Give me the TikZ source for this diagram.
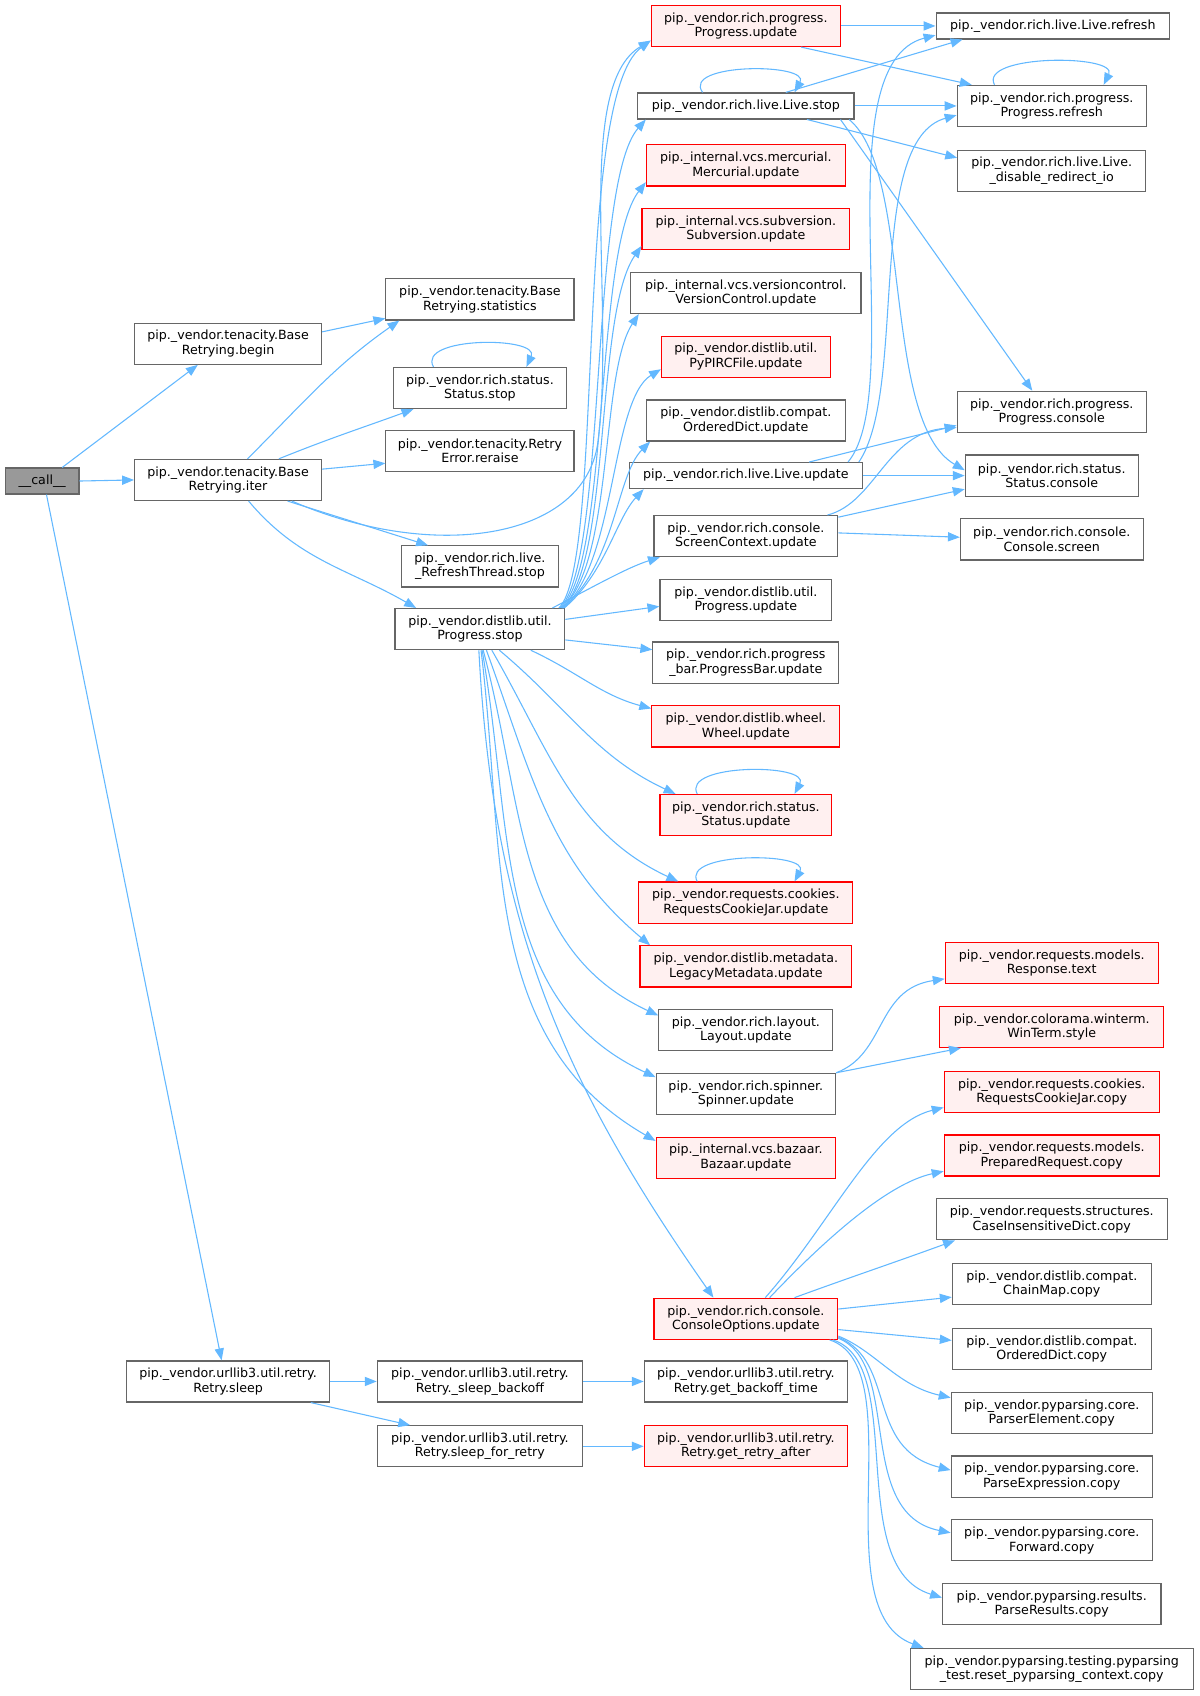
\documentclass[tikz,border=0pt]{standalone}
\usepackage{fontspec}
\setmainfont{DejaVu Sans}
\usetikzlibrary{arrows.meta}
\definecolor{edgeblue}{HTML}{63B8FF}
\definecolor{nodegray}{HTML}{666666}
\definecolor{redfill}{HTML}{FFF0F0}
\definecolor{rootfill}{HTML}{999999}
\begin{document}
\begin{tikzpicture}[x=1pt,y=1pt,
  fn/.style={draw=nodegray, line width=1.1pt, fill=white, rectangle, inner sep=0pt,
    minimum height=38pt, align=center, font=\fontsize{11.7}{13.4}\selectfont},
  one/.style={minimum height=24pt},
  hot/.style={draw=red, fill=redfill},
  root/.style={fill=rootfill},
  e/.style={draw=edgeblue, line width=1pt, -{Triangle[length=11pt,width=8.5pt]}},
]
\useasboundingbox (0,0) rectangle (1110,-1569);
% column 0/1
\node[fn,one,root,minimum width=68pt] (call) at (39,-445) {\_\_call\_\_};
\node[fn,minimum width=173pt] (begin) at (211,-318) {pip.\_vendor.tenacity.Base\\Retrying.begin};
\node[fn,minimum width=173pt] (iter) at (211,-444) {pip.\_vendor.tenacity.Base\\Retrying.iter};
\node[fn,minimum width=188pt] (sleep) at (211,-1278) {pip.\_vendor.urllib3.util.retry.\\Retry.sleep};
% column 2
\node[fn,minimum width=174pt] (statistics) at (444,-277) {pip.\_vendor.tenacity.Base\\Retrying.statistics};
\node[fn,minimum width=160pt] (sstop) at (444,-359) {pip.\_vendor.rich.status.\\Status.stop};
\node[fn,minimum width=174pt] (reraise) at (444,-417) {pip.\_vendor.tenacity.Retry\\Error.reraise};
\node[fn,minimum width=145pt] (rthread) at (444,-524) {pip.\_vendor.rich.live.\\\_RefreshThread.stop};
\node[fn,minimum width=157pt] (pstop) at (444,-582) {pip.\_vendor.distlib.util.\\Progress.stop};
\node[fn,minimum width=190pt] (sbackoff) at (444,-1278) {pip.\_vendor.urllib3.util.retry.\\Retry.\_sleep\_backoff};
\node[fn,minimum width=190pt] (sfr) at (444,-1338) {pip.\_vendor.urllib3.util.retry.\\Retry.sleep\_for\_retry};
% column 3
\node[fn,hot,minimum width=175pt] (pupd) at (690,-24) {pip.\_vendor.rich.progress.\\Progress.update};
\node[fn,one,minimum width=200pt] (lstop) at (690,-98) {pip.\_vendor.rich.live.Live.stop};
\node[fn,hot,minimum width=184pt] (merc) at (690,-153) {pip.\_internal.vcs.mercurial.\\Mercurial.update};
\node[fn,hot,minimum width=192pt] (subv) at (690,-212) {pip.\_internal.vcs.subversion.\\Subversion.update};
\node[fn,minimum width=213pt] (vctl) at (690,-271) {pip.\_internal.vcs.versioncontrol.\\VersionControl.update};
\node[fn,hot,minimum width=156pt] (pypirc) at (690,-330) {pip.\_vendor.distlib.util.\\PyPIRCFile.update};
\node[fn,minimum width=184pt] (odupd) at (690,-389) {pip.\_vendor.distlib.compat.\\OrderedDict.update};
\node[fn,one,minimum width=216pt] (lupd) at (690,-440) {pip.\_vendor.rich.live.Live.update};
\node[fn,minimum width=170pt] (scupd) at (690,-496) {pip.\_vendor.rich.console.\\ScreenContext.update};
\node[fn,minimum width=159pt] (dpupd) at (690,-555) {pip.\_vendor.distlib.util.\\Progress.update};
\node[fn,minimum width=172pt] (pbupd) at (690,-613) {pip.\_vendor.rich.progress\\\_bar.ProgressBar.update};
\node[fn,hot,minimum width=174pt] (wheel) at (690,-672) {pip.\_vendor.distlib.wheel.\\Wheel.update};
\node[fn,hot,minimum width=159pt] (stupd) at (690,-754) {pip.\_vendor.rich.status.\\Status.update};
\node[fn,hot,minimum width=198pt] (rcjupd) at (690,-835) {pip.\_vendor.requests.cookies.\\RequestsCookieJar.update};
\node[fn,hot,minimum width=196pt] (legacy) at (690,-894) {pip.\_vendor.distlib.metadata.\\LegacyMetadata.update};
\node[fn,minimum width=161pt] (layout) at (690,-953) {pip.\_vendor.rich.layout.\\Layout.update};
\node[fn,minimum width=166pt] (spinner) at (690,-1012) {pip.\_vendor.rich.spinner.\\Spinner.update};
\node[fn,hot,minimum width=166pt] (bazaar) at (690,-1071) {pip.\_internal.vcs.bazaar.\\Bazaar.update};
\node[fn,hot,minimum width=170pt] (coupd) at (690,-1220) {pip.\_vendor.rich.console.\\ConsoleOptions.update};
\node[fn,minimum width=188pt] (gbt) at (690,-1278) {pip.\_vendor.urllib3.util.retry.\\Retry.get\_backoff\_time};
\node[fn,hot,minimum width=188pt] (gra) at (690,-1338) {pip.\_vendor.urllib3.util.retry.\\Retry.get\_retry\_after};
% column 4
\node[fn,one,minimum width=216pt] (lref) at (974,-24) {pip.\_vendor.rich.live.Live.refresh};
\node[fn,minimum width=175pt] (pref) at (973,-98) {pip.\_vendor.rich.progress.\\Progress.refresh};
\node[fn,minimum width=174pt] (dri) at (973,-158) {pip.\_vendor.rich.live.Live.\\\_disable\_redirect\_io};
\node[fn,minimum width=175pt] (pcon) at (973,-381) {pip.\_vendor.rich.progress.\\Progress.console};
\node[fn,minimum width=160pt] (scon) at (973,-440) {pip.\_vendor.rich.status.\\Status.console};
\node[fn,minimum width=169pt] (cscr) at (973,-499) {pip.\_vendor.rich.console.\\Console.screen};
\node[fn,hot,minimum width=197pt] (rtext) at (973,-891) {pip.\_vendor.requests.models.\\Response.text};
\node[fn,hot,minimum width=207pt] (wstyle) at (973,-950) {pip.\_vendor.colorama.winterm.\\WinTerm.style};
\node[fn,hot,minimum width=199pt] (rcjcopy) at (973,-1010) {pip.\_vendor.requests.cookies.\\RequestsCookieJar.copy};
\node[fn,hot,minimum width=199pt] (prcopy) at (973,-1069) {pip.\_vendor.requests.models.\\PreparedRequest.copy};
\node[fn,minimum width=214pt] (cidcopy) at (973,-1128) {pip.\_vendor.requests.structures.\\CaseInsensitiveDict.copy};
\node[fn,minimum width=184pt] (cmcopy) at (973,-1188) {pip.\_vendor.distlib.compat.\\ChainMap.copy};
\node[fn,minimum width=184pt] (odcopy) at (973,-1248) {pip.\_vendor.distlib.compat.\\OrderedDict.copy};
\node[fn,minimum width=186pt] (pecopy) at (973,-1307) {pip.\_vendor.pyparsing.core.\\ParserElement.copy};
\node[fn,minimum width=186pt] (pexcopy) at (973,-1366) {pip.\_vendor.pyparsing.core.\\ParseExpression.copy};
\node[fn,minimum width=186pt] (fwdcopy) at (973,-1425) {pip.\_vendor.pyparsing.core.\\Forward.copy};
\node[fn,minimum width=202pt] (prcopy2) at (973,-1484) {pip.\_vendor.pyparsing.results.\\ParseResults.copy};
\node[fn,minimum width=262pt] (resetcopy) at (973,-1544) {pip.\_vendor.pyparsing.testing.pyparsing\\\_test.reset\_pyparsing\_context.copy};

% ---- edges from __call__
\draw[e] ([xshift=-16pt]call.north east) -- ([xshift=-28pt]begin.south);
\draw[e] (call.east) -- (iter.west);
\draw[e] ([xshift=4pt]call.south) -- ([xshift=-6pt]sleep.north);
% begin
\draw[e] ([yshift=11pt]begin.east) -- ([yshift=2pt]statistics.south west);
% iter
\draw[e] ([xshift=18pt]iter.north) to[out=45,in=215] ([xshift=13pt]statistics.south west);
\draw[e] ([xshift=47pt]iter.north) to[out=22,in=200] ([xshift=19pt]sstop.south west);
\draw[e] ([yshift=10pt]iter.east) -- ([yshift=8pt]reraise.south west);
\draw[e] ([xshift=-32pt]iter.south east) -- ([xshift=25pt]rthread.north west);
\draw[e] ([xshift=19pt]iter.south) to[out=-50,in=150] ([xshift=20pt]pstop.north west);
\draw[e] ([xshift=-28pt]iter.south east) .. controls (400,-520) and (540,-500) .. (553,-410)
  .. controls (570,-280) and (530,-80) .. ([yshift=6pt]pupd.south west);
% self loops
\draw[e] ([xshift=-43pt]sstop.north) .. controls (385,-311) and (500,-311) .. ([xshift=43pt]sstop.north);
\draw[e] ([xshift=-40pt]lstop.north) .. controls (630,-58) and (750,-58) .. ([xshift=45pt]lstop.north);
\draw[e] ([xshift=-53pt]pref.north) .. controls (905,-50) and (1035,-50) .. ([xshift=48pt]pref.north);
\draw[e] ([xshift=-45pt]stupd.north) .. controls (630,-706) and (750,-706) .. ([xshift=45pt]stupd.north);
\draw[e] ([xshift=-45pt]rcjupd.north) .. controls (630,-788) and (750,-788) .. ([xshift=45pt]rcjupd.north);
% Progress.stop fan-out (upwards)
\draw[e] ([xshift=-6pt]pstop.north east) .. controls (560,-520) and (530,-90) .. ([yshift=6pt]pupd.south west);
\draw[e] ([xshift=-5pt]pstop.north east) .. controls (562,-520) and (545,-170) .. ([xshift=8pt]lstop.south west);
\draw[e] ([xshift=-4pt]pstop.north east) .. controls (564,-520) and (550,-230) .. ([yshift=4pt]merc.south west);
\draw[e] ([xshift=-3pt]pstop.north east) .. controls (566,-520) and (550,-290) .. ([yshift=4pt]subv.south west);
\draw[e] ([xshift=-3pt]pstop.north east) .. controls (568,-520) and (555,-345) .. ([xshift=8pt]vctl.south west);
\draw[e] ([xshift=-2pt]pstop.north east) .. controls (570,-520) and (565,-370) .. ([yshift=8pt]pypirc.south west);
\draw[e] ([xshift=-2pt]pstop.north east) .. controls (570,-520) and (570,-440) .. ([xshift=4pt]odupd.south west);
\draw[e] ([xshift=-1pt]pstop.north east) .. controls (560,-530) and (570,-480) .. ([xshift=14pt]lupd.south west);
\draw[e] ([xshift=-12pt]pstop.north east) .. controls (545,-545) and (580,-525) .. ([xshift=6pt]scupd.south west);
% Progress.stop fan-out (side / downwards)
\draw[e] ([yshift=9pt]pstop.east) -- ([yshift=-6pt]dpupd.west);
\draw[e] ([yshift=-10pt]pstop.east) -- ([yshift=12pt]pbupd.west);
\draw[e] ([xshift=-32pt]pstop.south east) to[out=-25,in=165] ([yshift=-3pt]wheel.north west);
\draw[e] ([xshift=18pt]pstop.south) to[out=-40,in=155] ([xshift=15pt]stupd.north west);
\draw[e] ([xshift=11pt]pstop.south) to[out=-60,in=155] ([xshift=37pt]rcjupd.north west);
\draw[e] ([xshift=6pt]pstop.south) to[out=-70,in=140] ([xshift=10pt]legacy.north west);
\draw[e] ([xshift=3pt]pstop.south) to[out=-75,in=155] ([yshift=-6pt]layout.north west);
\draw[e] ([xshift=2pt]pstop.south) to[out=-80,in=155] ([yshift=-4pt]spinner.north west);
\draw[e] ([xshift=1pt]pstop.south) to[out=-83,in=150] ([yshift=-4pt]bazaar.north west);
\draw[e] ([xshift=-1pt]pstop.south) to[out=-87,in=125] ([xshift=-30pt]coupd.north);
% rich Progress.update
\draw[e] (pupd.east) -- (lref.west);
\draw[e] ([xshift=-37pt]pupd.south east) -- ([xshift=14pt]pref.north west);
% Live.stop
\draw[e] ([xshift=37pt]lstop.north) -- ([xshift=25pt]lref.south west);
\draw[e] (lstop.east) -- (pref.west);
\draw[e] ([xshift=-44pt]lstop.south east) -- ([yshift=12pt]dri.west);
\draw[e] ([xshift=-13pt]lstop.south east) -- ([xshift=-18pt]pcon.north);
\draw[e] ([xshift=-5pt]lstop.south east) .. controls (845,-160) and (815,-390) .. ([yshift=5pt]scon.west);
% Live.update
\draw[e] ([xshift=-14pt]lupd.north east) .. controls (840,-360) and (760,-60) .. ([yshift=4pt]lref.south west);
\draw[e] ([xshift=-4pt]lupd.north east) .. controls (840,-360) and (800,-130) .. ([yshift=11pt]pref.south west);
\draw[e] ([xshift=-50pt]lupd.north east) -- ([yshift=7pt]pcon.south west);
\draw[e] (lupd.east) -- (scon.west);
% ScreenContext.update
\draw[e] ([xshift=-10pt]scupd.north east) .. controls (810,-465) and (820,-400) .. ([yshift=5pt]pcon.south west);
\draw[e] ([yshift=-2pt]scupd.north east) -- ([yshift=7pt]scon.south west);
\draw[e] ([yshift=3pt]scupd.east) -- ([yshift=2pt]cscr.west);
% Spinner.update
\draw[e] (spinner.north east) .. controls (820,-975) and (810,-915) .. ([yshift=5pt]rtext.south west);
\draw[e] (spinner.north east) -- ([xshift=20pt]wstyle.south west);
% ConsoleOptions.update
\draw[e] ([xshift=18pt]coupd.north) .. controls (770,-1130) and (810,-1040) .. ([yshift=5pt]rcjcopy.south west);
\draw[e] ([xshift=22pt]coupd.north) .. controls (760,-1150) and (820,-1095) .. ([yshift=5pt]prcopy.south west);
\draw[e] ([xshift=45pt]coupd.north) to[out=20,in=200] ([xshift=18pt]cidcopy.south west);
\draw[e] ([yshift=9pt]coupd.east) -- ([yshift=-12pt]cmcopy.west);
\draw[e] ([yshift=-10pt]coupd.east) -- ([yshift=8pt]odcopy.west);
\draw[e] ([yshift=-16pt]coupd.east) .. controls (810,-1250) and (830,-1282) .. ([yshift=14pt]pecopy.west);
\draw[e] ([yshift=-17pt]coupd.east) .. controls (830,-1260) and (800,-1340) .. ([yshift=6pt]pexcopy.west);
\draw[e] ([yshift=-18pt]coupd.east) .. controls (835,-1262) and (790,-1400) .. ([yshift=7pt]fwdcopy.west);
\draw[e] ([xshift=-5pt]coupd.south east) .. controls (840,-1262) and (780,-1450) .. ([yshift=6pt]prcopy2.west);
\draw[e] ([xshift=-8pt]coupd.south east) .. controls (845,-1265) and (760,-1490) .. ([xshift=13pt]resetcopy.north west);
% urllib3
\draw[e] (sleep.east) -- (sbackoff.west);
\draw[e] ([xshift=-18pt]sleep.south east) -- ([xshift=31pt]sfr.north west);
\draw[e] (sbackoff.east) -- (gbt.west);
\draw[e] (sfr.east) -- (gra.west);
\end{tikzpicture}
\end{document}
